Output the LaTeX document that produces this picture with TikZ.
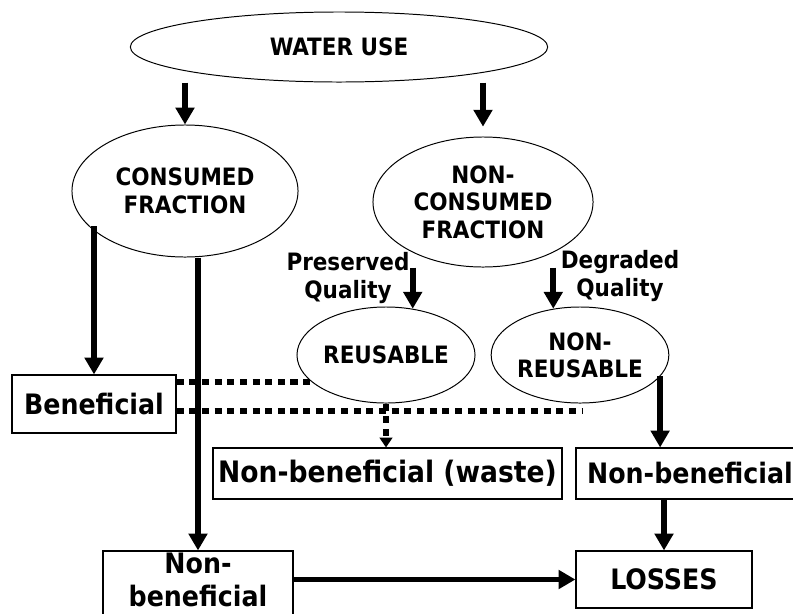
\documentclass[tikz,border=0pt]{standalone}
\usepackage{fontspec}
\setmainfont{DejaVu Sans Condensed}
\usetikzlibrary{shapes.geometric,arrows.meta}

\begin{document}
\begin{tikzpicture}[x=0.025cm,y=-0.025cm,
  oval/.style={draw,ellipse,line width=.7pt,inner sep=0pt,align=center,
    font=\fontsize{17}{19.5}\selectfont\bfseries},
  box/.style={draw,rectangle,line width=.8pt,inner sep=0pt,align=center,
    font=\fontsize{20}{24}\selectfont\bfseries},
  lbl/.style={align=center,font=\fontsize{17}{19.5}\selectfont\bfseries},
  arr/.style={line width=4pt,-{Triangle[width=13pt,length=12pt]}},
  dots/.style={line width=4.5pt,dash pattern=on 5pt off 4pt}]
  \useasboundingbox (0,0) rectangle (793,613);
  % ovals
  \node[oval,minimum width=10.43cm,minimum height=1.75cm] (water) at (339,47) {WATER USE};
  \node[oval,minimum width=5.65cm,minimum height=3.3cm] (consumed) at (185,191) {CONSUMED\\FRACTION};
  \node[oval,minimum width=5.5cm,minimum height=3.25cm] (noncons) at (483,202) {NON-\\CONSUMED\\FRACTION};
  \node[oval,minimum width=4.45cm,minimum height=2.4cm] (reusable) at (386,355) {REUSABLE};
  \node[oval,minimum width=4.4cm,minimum height=2.4cm] (nonreus) at (580,355) {NON-\\REUSABLE};
  \node[lbl] (preserved) at (348,278) {Preserved\\Quality};
  \node[lbl] (degraded) at (620,276) {Degraded\\Quality};
  % boxes
  \node[box,minimum width=4.1cm,minimum height=1.45cm] (benef) at (94,404) {Beneficial};
  \node[box,minimum width=8.725cm,minimum height=1.275cm,font=\fontsize{21}{24}\selectfont\bfseries] (waste) at (387.5,473.5) {Non-beneficial (waste)};
  \node[box,minimum width=5.7cm,minimum height=1.275cm] (nbright) at (690,473.5) {Non-beneficial};
  \node[box,minimum width=4.4cm,minimum height=1.425cm] (losses) at (664,579.5) {LOSSES};
  \node[box,minimum width=4.75cm,minimum height=1.75cm,text depth=9pt] (nbleft) at (198,586) {Non-\\beneficial};
  \coordinate (dotend) at (583,411);
  % dotted links
  \draw[dots] (reusable.200 -| benef.east) -- (reusable.200);
  \draw[dots] (dotend -| benef.east) -- (dotend);
  \draw[dots,-{Triangle[width=9pt,length=7pt]}] (reusable.south) -- (reusable.south |- waste.north);
  % arrows
  \draw[arr] (consumed.north |- water.south) -- (consumed.north);
  \draw[arr,shorten >=7pt] (noncons.north |- water.south) -- (noncons.north);
  \draw[arr] (reusable.60 |- noncons.south) -- (reusable.60);
  \draw[arr] (nonreus.120 |- noncons.south) -- (nonreus.120);
  \draw[arr] (benef.north |- consumed.200) -- (benef.north);
  \draw[arr] (nbleft.north |- consumed.south) -- (nbleft.north);
  \draw[arr] (nonreus.345) -- (nonreus.345 |- nbright.north);
  \draw[arr] (losses.north |- nbright.south) -- (losses.north);
  \draw[arr] (nbleft.east |- losses.west) -- (losses.west);
\end{tikzpicture}
\end{document}
